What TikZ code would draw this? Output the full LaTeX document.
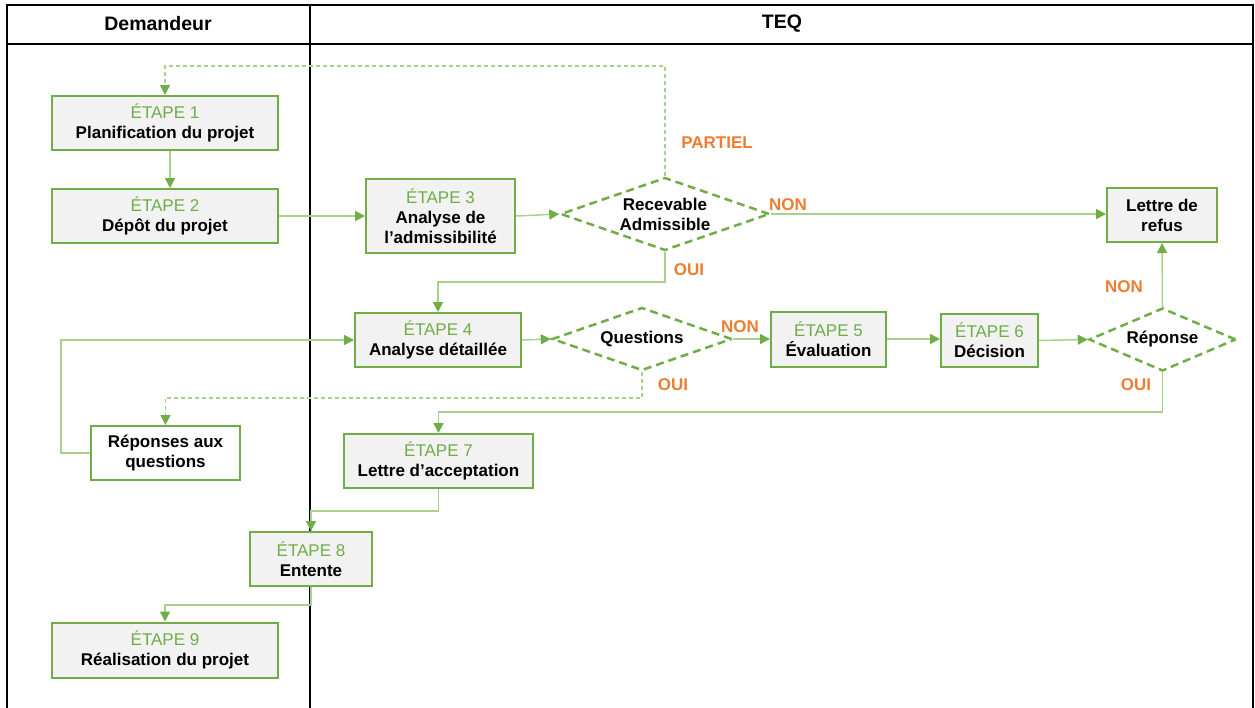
\documentclass[tikz,border=0pt]{standalone}
\usepackage{fontspec}
\setmainfont{Liberation Sans}
\usetikzlibrary{arrows.meta,shapes.geometric}
\definecolor{grn}{HTML}{70AD47}
\definecolor{lgrn}{HTML}{A9D18E}
\definecolor{org}{HTML}{ED7D31}
\definecolor{boxfill}{HTML}{F2F2F2}
\tikzset{
  stepbox/.style={draw=grn, line width=2pt, fill=boxfill, inner sep=0pt, align=center,
    font=\fontsize{17}{20}\selectfont},
  whitebox/.style={stepbox, fill=white},
  decision/.style={diamond, draw=grn, line width=2.5pt, dash pattern=on 8pt off 5pt, fill=white, inner sep=0pt},
  dtext/.style={align=center, font=\fontsize{17}{20}\selectfont\bfseries},
  conn/.style={draw=lgrn, line width=1.5pt, -{Triangle[length=10pt,width=10pt,color=grn]}},
  dconn/.style={conn, dash pattern=on 4pt off 3pt},
  lbl/.style={text=org, font=\fontsize{17}{20}\selectfont\bfseries},
  lane/.style={draw=black, line width=1.8pt},
  hdr/.style={font=\fontsize{19.5}{22}\selectfont\bfseries}
}
\newcommand{\etp}[2]{\textcolor{grn}{ÉTAPE #1}\\\bfseries #2}
\begin{document}
\begin{tikzpicture}[x=1pt,y=-1pt]
\useasboundingbox (0,0) rectangle (1255,707);
% swimlanes
\draw[lane] (7,712) -- (7,5) -- (1253,5) -- (1253,712);
\draw[lane] (7,44) -- (1253,44);
\draw[lane] (310,5) -- (310,712);
\node[hdr] (hdem) at (158,24) {Demandeur};
\node[hdr] (hteq) at (782,24) {TEQ};
% helper coordinates
\coordinate (ytop) at (0,66);
\coordinate (youi1) at (0,282);
\coordinate (yq) at (0,398);
\coordinate (yrep) at (0,412);
\coordinate (y78) at (0,511);
\coordinate (y89) at (0,605);
\coordinate (xleft) at (61,0);
% nodes
\node[stepbox, minimum width=226, minimum height=54] (e1) at (165,123) {\etp{1}{Planification du projet}};
\node[stepbox, minimum width=226, minimum height=54] (e2) at (165,216) {\etp{2}{Dépôt du projet}};
\node[stepbox, minimum width=149, minimum height=74] (e3) at (440.5,216) {\etp{3}{Analyse de}\\\bfseries l’admissibilité};
\node[decision, minimum width=209, minimum height=73] (d1) at (665,214) {};
\node[dtext] (d1t) at (d1) {Recevable\\Admissible};
\node[stepbox, font=\fontsize{17}{20}\selectfont\bfseries, minimum width=110, minimum height=54] (refus) at (1162,215) {Lettre de\\refus};
\node[stepbox, minimum width=166, minimum height=54] (e4) at (438,340) {\etp{4}{Analyse détaillée}};
\node[decision, minimum width=180, minimum height=63] (d2) at (642,339) {};
\node[dtext] (d2t) at (d2) {Questions};
\node[stepbox, minimum width=115, minimum height=55] (e5) at (828.5,339) {\etp{5}{Évaluation}};
\node[stepbox, minimum width=97, minimum height=53] (e6) at (989.5,340.5) {\etp{6}{Décision}};
\node[decision, minimum width=147, minimum height=63] (d3) at (1162.5,339.5) {};
\node[dtext] (d3t) at (d3) {Réponse};
\node[whitebox, font=\fontsize{17}{20}\selectfont\bfseries, minimum width=149, minimum height=54] (rq) at (165.5,453) {Réponses aux\\questions};
\node[stepbox, minimum width=189, minimum height=54] (e7) at (438.5,461) {\etp{7}{Lettre d’acceptation}};
\node[stepbox, minimum width=122, minimum height=54] (e8) at (311,559) {\etp{8}{Entente}};
\node[stepbox, minimum width=226, minimum height=55] (e9) at (165,650) {\etp{9}{Réalisation du projet}};
% connectors
\draw[conn] ([xshift=5pt]e1.south) -- ([xshift=5pt]e2.north);
\draw[conn] (e2.east) -- (e3.west);
\draw[conn] (e3.east) -- (d1.west);
\draw[conn] (d1.east) -- (refus.west |- d1.east);
\draw[dconn] (d1.north) -- (d1.north |- ytop) -| (e1.north);
\draw[conn] (d1.south) -- (d1.south |- youi1) -| (e4.north);
\draw[conn] (e4.east) -- (d2.west);
\draw[conn] (d2.east) -- (e5.west);
\draw[conn] (e5.east) -- (e6.west |- e5.east);
\draw[conn] (e6.east) -- (d3.west);
\draw[conn] (d3.north) -- (refus.south);
\draw[dconn] (d2.south) -- (d2.south |- yq) -| (rq.north);
\draw[conn] (rq.west) -- (rq.west -| xleft) |- (e4.west);
\draw[conn] (d3.south) -- (d3.south |- yrep) -| (e7.north);
\draw[conn] (e7.south) -- (e7.south |- y78) -| (e8.north);
\draw[conn] (e8.south) -- (e8.south |- y89) -| (e9.north);
% labels
\node[lbl] (lpart) at (717,143) {PARTIEL};
\node[lbl] (lnon1) at (788,205) {NON};
\node[lbl] (loui1) at (689,270) {OUI};
\node[lbl] (lnon2) at (740,327) {NON};
\node[lbl] (loui2) at (673,385) {OUI};
\node[lbl] (lnon3) at (1124,287) {NON};
\node[lbl] (loui3) at (1136,385) {OUI};
\end{tikzpicture}
\end{document}
